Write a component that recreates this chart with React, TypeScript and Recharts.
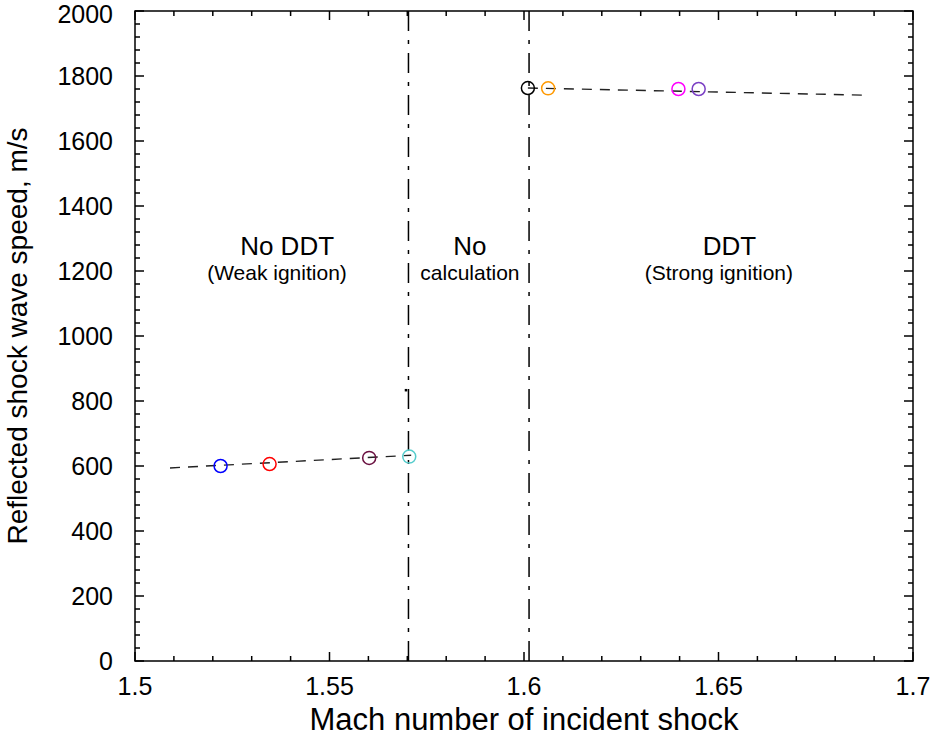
import {
  ScatterChart,
  Scatter,
  XAxis,
  YAxis,
  ReferenceLine,
  ReferenceArea,
} from "recharts";

// weak-ignition runs (no DDT)
const weakMach = [1.522, 1.5346, 1.5602, 1.5705];
const weakSpeed = [600, 606, 625, 629];
const weakColors = ["#0000ff", "#ff0000", "#6a1040", "#55cccc"];

// strong-ignition runs (DDT)
const strongMach = [1.601, 1.6062, 1.6397, 1.6449];
const strongSpeed = [1763, 1762, 1760, 1760];
const strongColors = ["#000000", "#ff9900", "#ff00ff", "#7b3fc4"];

// dashed trend lines [mach, speed]
const weakFit = [
  [1.509, 594],
  [1.571, 633],
];
const strongFit = [
  [1.601, 1763],
  [1.688, 1741],
];

// regime boundaries
const boundaries = [1.5703, 1.6013];
const stray = [[1.5696, 834]];

const headings = [
  { x: 1.5391, y: 1249, text: "No DDT" },
  { x: 1.5861, y: 1249, text: "No" },
  { x: 1.6528, y: 1249, text: "DDT" },
];
const subheadings = [
  { x: 1.5365, y: 1172, text: "(Weak ignition)" },
  { x: 1.5861, y: 1172, text: "calculation" },
  { x: 1.6501, y: 1172, text: "(Strong ignition)" },
];

const xMajor = [1.5, 1.55, 1.6, 1.65, 1.7];
const xMinor = [
  1.51, 1.52, 1.53, 1.54, 1.56, 1.57, 1.58, 1.59, 1.61, 1.62, 1.63, 1.64,
  1.66, 1.67, 1.68, 1.69,
];
const yMajor = [0, 200, 400, 600, 800, 1000, 1200, 1400, 1600, 1800, 2000];
const yMinor = [
  40, 80, 120, 160, 240, 280, 320, 360, 440, 480, 520, 560, 640, 680, 720,
  760, 840, 880, 920, 960, 1040, 1080, 1120, 1160, 1240, 1280, 1320, 1360,
  1440, 1480, 1520, 1560, 1640, 1680, 1720, 1760, 1840, 1880, 1920, 1960,
];

const W = 934;
const H = 738;
const margin = { top: 11, right: 21, bottom: 0, left: 0 };
const yAxisW = 135;
const xAxisH = 77;
const plotW = W - margin.left - margin.right - yAxisW;
const plotH = H - margin.top - margin.bottom - xAxisH;
const X0 = 1.5, X1 = 1.7, Y0 = 0, Y1 = 2000;
// pixel -> data units
const pxX = (X1 - X0) / plotW;
const pxY = (Y1 - Y0) / plotH;

const font = "'Liberation Sans', Arial, sans-serif";

const Ring = (color: string) => (p: any) =>
  <circle cx={p.cx} cy={p.cy} r={6.5} fill="none" stroke={color} strokeWidth={1.5} />;

const Caption = (size: number) => (p: any) =>
  (
    <text
      x={p.cx}
      y={p.cy}
      textAnchor="middle"
      fontSize={size}
      fontFamily={font}
      fill="#000"
    >
      {p.payload.text}
    </text>
  );

function tickSegments() {
  const segs: any[] = [];
  xMajor.concat(xMinor).forEach((v) => {
    const len = (xMajor.includes(v) ? 9 : 5) * pxY;
    segs.push([{ x: v, y: Y0 }, { x: v, y: Y0 + len }]);
    segs.push([{ x: v, y: Y1 }, { x: v, y: Y1 - len }]);
  });
  yMajor.concat(yMinor).forEach((v) => {
    const len = (yMajor.includes(v) ? 9 : 5) * pxX;
    segs.push([{ x: X0, y: v }, { x: X0 + len, y: v }]);
    segs.push([{ x: X1, y: v }, { x: X1 - len, y: v }]);
  });
  return segs;
}

export default function App() {
  const tick = { fontSize: 25, fontFamily: font, fill: "#000" };
  return (
    <div style={{ position: "absolute", left: 0, top: 0, background: "#fff" }}>
      <ScatterChart width={W} height={H} margin={margin}>
        <XAxis
          type="number"
          dataKey="x"
          domain={[X0, X1]}
          ticks={xMajor}
          allowDataOverflow
          height={xAxisH}
          axisLine={false}
          tickLine={false}
          tickSize={0}
          tickMargin={16}
          tick={tick}
          tickFormatter={(v) => String(v)}
          label={{
            value: "Mach number of incident shock",
            position: "insideBottom",
            offset: 8,
            style: { fontSize: 31, fontFamily: font, fill: "#000" },
          }}
        />
        <YAxis
          type="number"
          dataKey="y"
          domain={[Y0, Y1]}
          ticks={yMajor}
          allowDataOverflow
          width={yAxisW}
          axisLine={false}
          tickLine={false}
          tickSize={0}
          tickMargin={22}
          tick={tick}
          label={{
            value: "Reflected shock wave speed, m/s",
            angle: -90,
            position: "center",
            dx: -50,
            style: { fontSize: 28, fontFamily: font, fill: "#000", textAnchor: "middle" },
          }}
        />
        <ReferenceArea
          x1={X0}
          x2={X1}
          y1={Y0}
          y2={Y1}
          fill="none"
          stroke="#000"
          strokeWidth={1.5}
        />
        {tickSegments().map((s, i) => (
          <ReferenceLine key={"t" + i} segment={s} stroke="#000" strokeWidth={1.5} />
        ))}
        {boundaries.map((b) => (
          <ReferenceLine
            key={"b" + b}
            x={b}
            stroke="#000"
            strokeWidth={1.5}
            strokeDasharray="20 9 4 9"
          />
        ))}
        {weakMach.map((m, i) => (
          <Scatter
            key={"w" + i}
            data={[{ x: m, y: weakSpeed[i] }]}
            shape={Ring(weakColors[i])}
            isAnimationActive={false}
          />
        ))}
        {strongMach.map((m, i) => (
          <Scatter
            key={"s" + i}
            data={[{ x: m, y: strongSpeed[i] }]}
            shape={Ring(strongColors[i])}
            isAnimationActive={false}
          />
        ))}
        {[weakFit, strongFit].map((f, i) => (
          <ReferenceLine
            key={"f" + i}
            segment={f.map(([x, y]) => ({ x, y }))}
            stroke="#222"
            strokeWidth={1.4}
            strokeDasharray="10 8"
          />
        ))}
        <Scatter
          data={stray.map(([x, y]) => ({ x, y }))}
          shape={(p: any) => <rect x={p.cx - 1} y={p.cy - 1} width={2.5} height={2.5} fill="#000" />}
          isAnimationActive={false}
        />
        <Scatter data={headings} shape={Caption(26)} isAnimationActive={false} />
        <Scatter data={subheadings} shape={Caption(21)} isAnimationActive={false} />
      </ScatterChart>
    </div>
  );
}
